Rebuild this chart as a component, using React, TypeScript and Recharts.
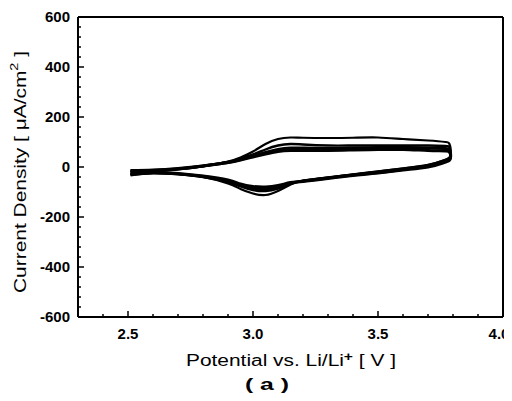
import { LineChart, Line, XAxis, YAxis, ReferenceLine } from "recharts";

// potential sweep (V): anodic from 2.51 V up to the turn at ~3.79 V, then back
const sweepV = [
  2.51, 2.6, 2.7, 2.8, 2.9, 2.95, 3.0, 3.05, 3.1, 3.15, 3.2, 3.3, 3.4, 3.5, 3.6, 3.7, 3.77,
  3.785, 3.79, 3.79, 3.785,
  3.76, 3.7, 3.6, 3.5, 3.4, 3.3, 3.2, 3.15, 3.1, 3.05, 3.0, 2.95, 2.9, 2.8, 2.7, 2.6, 2.51,
];

// current density (uA/cm2) for each cycle, same order as sweepV
const cycle1 = [
  -20, -16, -10, 2, 22, 38, 62, 92, 112, 118, 117, 116, 117, 118, 112, 106, 100,
  94, 76, 52, 38,
  26, 8, -6, -18, -30, -42, -54, -70, -96, -112, -106, -88, -66, -40, -28, -24, -28,
];
const cycle2 = [
  -18, -14, -8, 4, 20, 34, 50, 70, 86, 92, 90, 86, 86, 86, 86, 86, 84,
  80, 64, 44, 34,
  24, 8, -6, -18, -30, -42, -56, -68, -86, -96, -92, -78, -60, -40, -28, -24, -28,
];
const cycle3 = [
  -16, -14, -8, 4, 18, 30, 44, 58, 70, 76, 76, 74, 76, 78, 78, 76, 74,
  70, 56, 40, 30,
  20, 4, -10, -22, -32, -44, -56, -64, -80, -88, -84, -72, -56, -38, -28, -24, -30,
];
const cycle4 = [
  -14, -12, -6, 4, 18, 28, 40, 52, 62, 66, 66, 66, 68, 70, 70, 66, 64,
  60, 50, 36, 26,
  16, 0, -12, -24, -34, -46, -58, -62, -74, -80, -78, -68, -52, -36, -26, -22, -32,
];

const xMajor = [2.5, 3.0, 3.5, 4.0];
const yMajor = [-600, -400, -200, 0, 200, 400, 600];

// minor ticks: 0.1 V and 40 uA/cm2
const xTicks = Array.from({ length: 18 }, (_, k) => Math.round((2.3 + k * 0.1) * 10) / 10);
const yTicks = Array.from({ length: 31 }, (_, k) => -600 + 40 * k);

const cycles = [
  { name: "cycle 1", values: cycle1, width: 2.2 },
  { name: "cycle 2", values: cycle2, width: 2.4 },
  { name: "cycle 3", values: cycle3, width: 3 },
  { name: "cycle 4", values: cycle4, width: 3 },
];

const font = "'Liberation Sans', Arial, Helvetica, sans-serif";

function XTick({ x, y, payload }: any) {
  const major = xMajor.some((m) => Math.abs(m - payload.value) < 1e-6);
  // last label sits on the page edge, nudge it in a bit
  const shift = payload.value >= 4 ? -4 : 0;
  return (
    <g>
      <line x1={x} y1={y} x2={x} y2={y - (major ? 6 : 3)} stroke="#000" strokeWidth={1.5} />
      {major && (
        <text x={x + shift} y={y + 22} textAnchor="middle" fontSize={15} fontWeight="bold" fontFamily={font} fill="#000">
          {payload.value.toFixed(1)}
        </text>
      )}
    </g>
  );
}

function YTick({ x, y, payload }: any) {
  const major = yMajor.includes(payload.value);
  return (
    <g>
      <line x1={x} y1={y} x2={x + (major ? 6 : 3)} y2={y} stroke="#000" strokeWidth={1.5} />
      {major && (
        <text x={x - 8} y={y} dy="0.36em" textAnchor="end" fontSize={15} fontWeight="bold" fontFamily={font} fill="#000">
          {payload.value}
        </text>
      )}
    </g>
  );
}

function YTitle() {
  return (
    <text
      x={12}
      y={164}
      transform="rotate(-90, 12, 164)"
      textAnchor="middle"
      dominantBaseline="central"
      fontSize={16}
      fontFamily={font}
      fill="#000"
      textLength={242}
      lengthAdjust="spacingAndGlyphs"
    >
      Current Density{"  "}[ μA/cm
      <tspan dy={-6} fontSize={11}>2</tspan>
      <tspan dy={6}> ]</tspan>
    </text>
  );
}

function XTitle() {
  return (
    <g fontFamily={font} fill="#000">
      <text x={283} y={358} textAnchor="middle" fontSize={16} textLength={210} lengthAdjust="spacingAndGlyphs">
        Potential vs. Li/Li
        <tspan dy={-5} fontSize={12} fontWeight="bold">+</tspan>
        <tspan dy={5}>{"  "}[ V ]</tspan>
      </text>
      <text x={259} y={382} textAnchor="middle" fontSize={16} fontWeight="bold" textLength={44} lengthAdjust="spacingAndGlyphs">
        ( a )
      </text>
    </g>
  );
}

const css =
  "html{overflow:hidden}" +
  ".recharts-wrapper{overflow:visible !important}" +
  "svg.recharts-surface{overflow:visible !important}";

export default function App() {
  return (
    <div style={{ width: 504, height: 393 }}>
      <style>{css}</style>
      <LineChart width={504} height={393} margin={{ top: 9, right: 9, bottom: 0, left: 0 }}>
        <XAxis
          type="number"
          dataKey="v"
          domain={[2.3, 4.0]}
          ticks={xTicks}
          interval={0}
          tickSize={0}
          tickMargin={0}
          tickLine={false}
          tick={<XTick />}
          height={84}
          axisLine={{ stroke: "#000", strokeWidth: 2 }}
          allowDataOverflow
          label={<XTitle />}
        />
        <YAxis
          type="number"
          domain={[-600, 600]}
          ticks={yTicks}
          interval={0}
          tickSize={0}
          tickMargin={0}
          tickLine={false}
          tick={<YTick />}
          width={70}
          axisLine={{ stroke: "#000", strokeWidth: 2 }}
          allowDataOverflow
          label={<YTitle />}
        />
        <ReferenceLine y={600} stroke="#000" strokeWidth={2} />
        <ReferenceLine x={4.0} stroke="#000" strokeWidth={2} />
        {cycles.map((c) => (
          <Line
            key={c.name}
            name={c.name}
            data={sweepV.map((v, k) => ({ v, i: c.values[k] }))}
            dataKey="i"
            type="natural"
            stroke="#000"
            strokeWidth={c.width}
            dot={false}
            isAnimationActive={false}
          />
        ))}
      </LineChart>
    </div>
  );
}
